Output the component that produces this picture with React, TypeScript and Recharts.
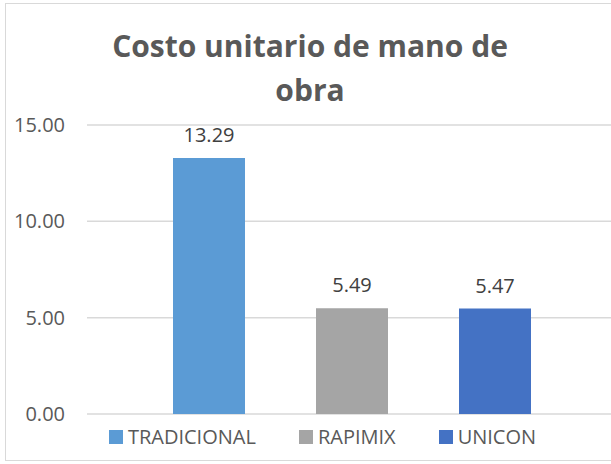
import React from "react";
import { BarChart, Bar, XAxis, YAxis, CartesianGrid, LabelList } from "recharts";

const seriesNames = ["TRADICIONAL", "RAPIMIX", "UNICON"];
const seriesValues = [13.29, 5.49, 5.47];
const seriesColors = ["#5B9BD5", "#A5A5A5", "#4472C4"];
const yTicks = [0, 5, 10, 15];
const titleLines = ["Costo unitario de mano de", "obra"];

const row: Record<string, string | number> = { name: "" };
seriesNames.forEach((s, i) => {
  row[s] = seriesValues[i];
});
const data = [row];

const FONT = "'Open Sans', sans-serif";

function ChartLegend() {
  return (
    <div
      style={{
        position: "absolute",
        left: 0,
        top: 425,
        width: 645,
        display: "flex",
        justifyContent: "center",
        alignItems: "center",
        gap: 43,
        fontFamily: FONT,
        fontSize: 20,
        color: "#595959",
        lineHeight: "24px",
      }}
    >
      {seriesNames.map((s, i) => (
        <div key={s} style={{ display: "flex", alignItems: "center" }}>
          <span
            style={{
              display: "inline-block",
              width: 14,
              height: 14,
              background: seriesColors[i],
              marginRight: 5,
            }}
          />
          <span>{s}</span>
        </div>
      ))}
    </div>
  );
}

export default function App() {
  return (
    <div style={{ position: "relative", width: 611, height: 464, overflow: "hidden", background: "#fff" }}>
      <style>{"body{margin:0}"}</style>
      <div
        style={{
          position: "absolute",
          left: 5,
          top: 3,
          width: 700,
          height: 458,
          border: "1px solid #d9d9d9",
          boxSizing: "border-box",
        }}
      />
      <div
        style={{
          position: "absolute",
          left: 0,
          top: 24,
          width: 620,
          textAlign: "center",
          fontFamily: FONT,
          fontWeight: 700,
          fontSize: 30,
          lineHeight: "44px",
          color: "#595959",
        }}
      >
        {titleLines.map((t) => (
          <div key={t}>{t}</div>
        ))}
      </div>
      <div style={{ position: "absolute", left: 0, top: 0 }}>
        <BarChart
          width={640}
          height={464}
          data={data}
          margin={{ top: 125, right: 23, bottom: 50, left: 0 }}
          barSize={72}
          barGap={71}
        >
          <CartesianGrid vertical={false} stroke="#d9d9d9" strokeWidth={1.5} />
          <XAxis dataKey="name" hide />
          <YAxis
            width={87}
            domain={[0, 15]}
            ticks={yTicks}
            axisLine={false}
            tickLine={false}
            tickSize={6}
            tickMargin={16}
            tickFormatter={(v: number) => v.toFixed(2)}
            tick={{ fill: "#595959", fontSize: 20, fontFamily: FONT }}
          />
          {seriesNames.map((s, i) => (
            <Bar key={s} dataKey={s} fill={seriesColors[i]} isAnimationActive={false}>
              <LabelList
                dataKey={s}
                position="top"
                offset={16}
                formatter={(v: number) => v.toFixed(2)}
                fill="#404040"
                fontSize={20}
                fontFamily={FONT}
              />
            </Bar>
          ))}
        </BarChart>
      </div>
      <ChartLegend />
    </div>
  );
}
